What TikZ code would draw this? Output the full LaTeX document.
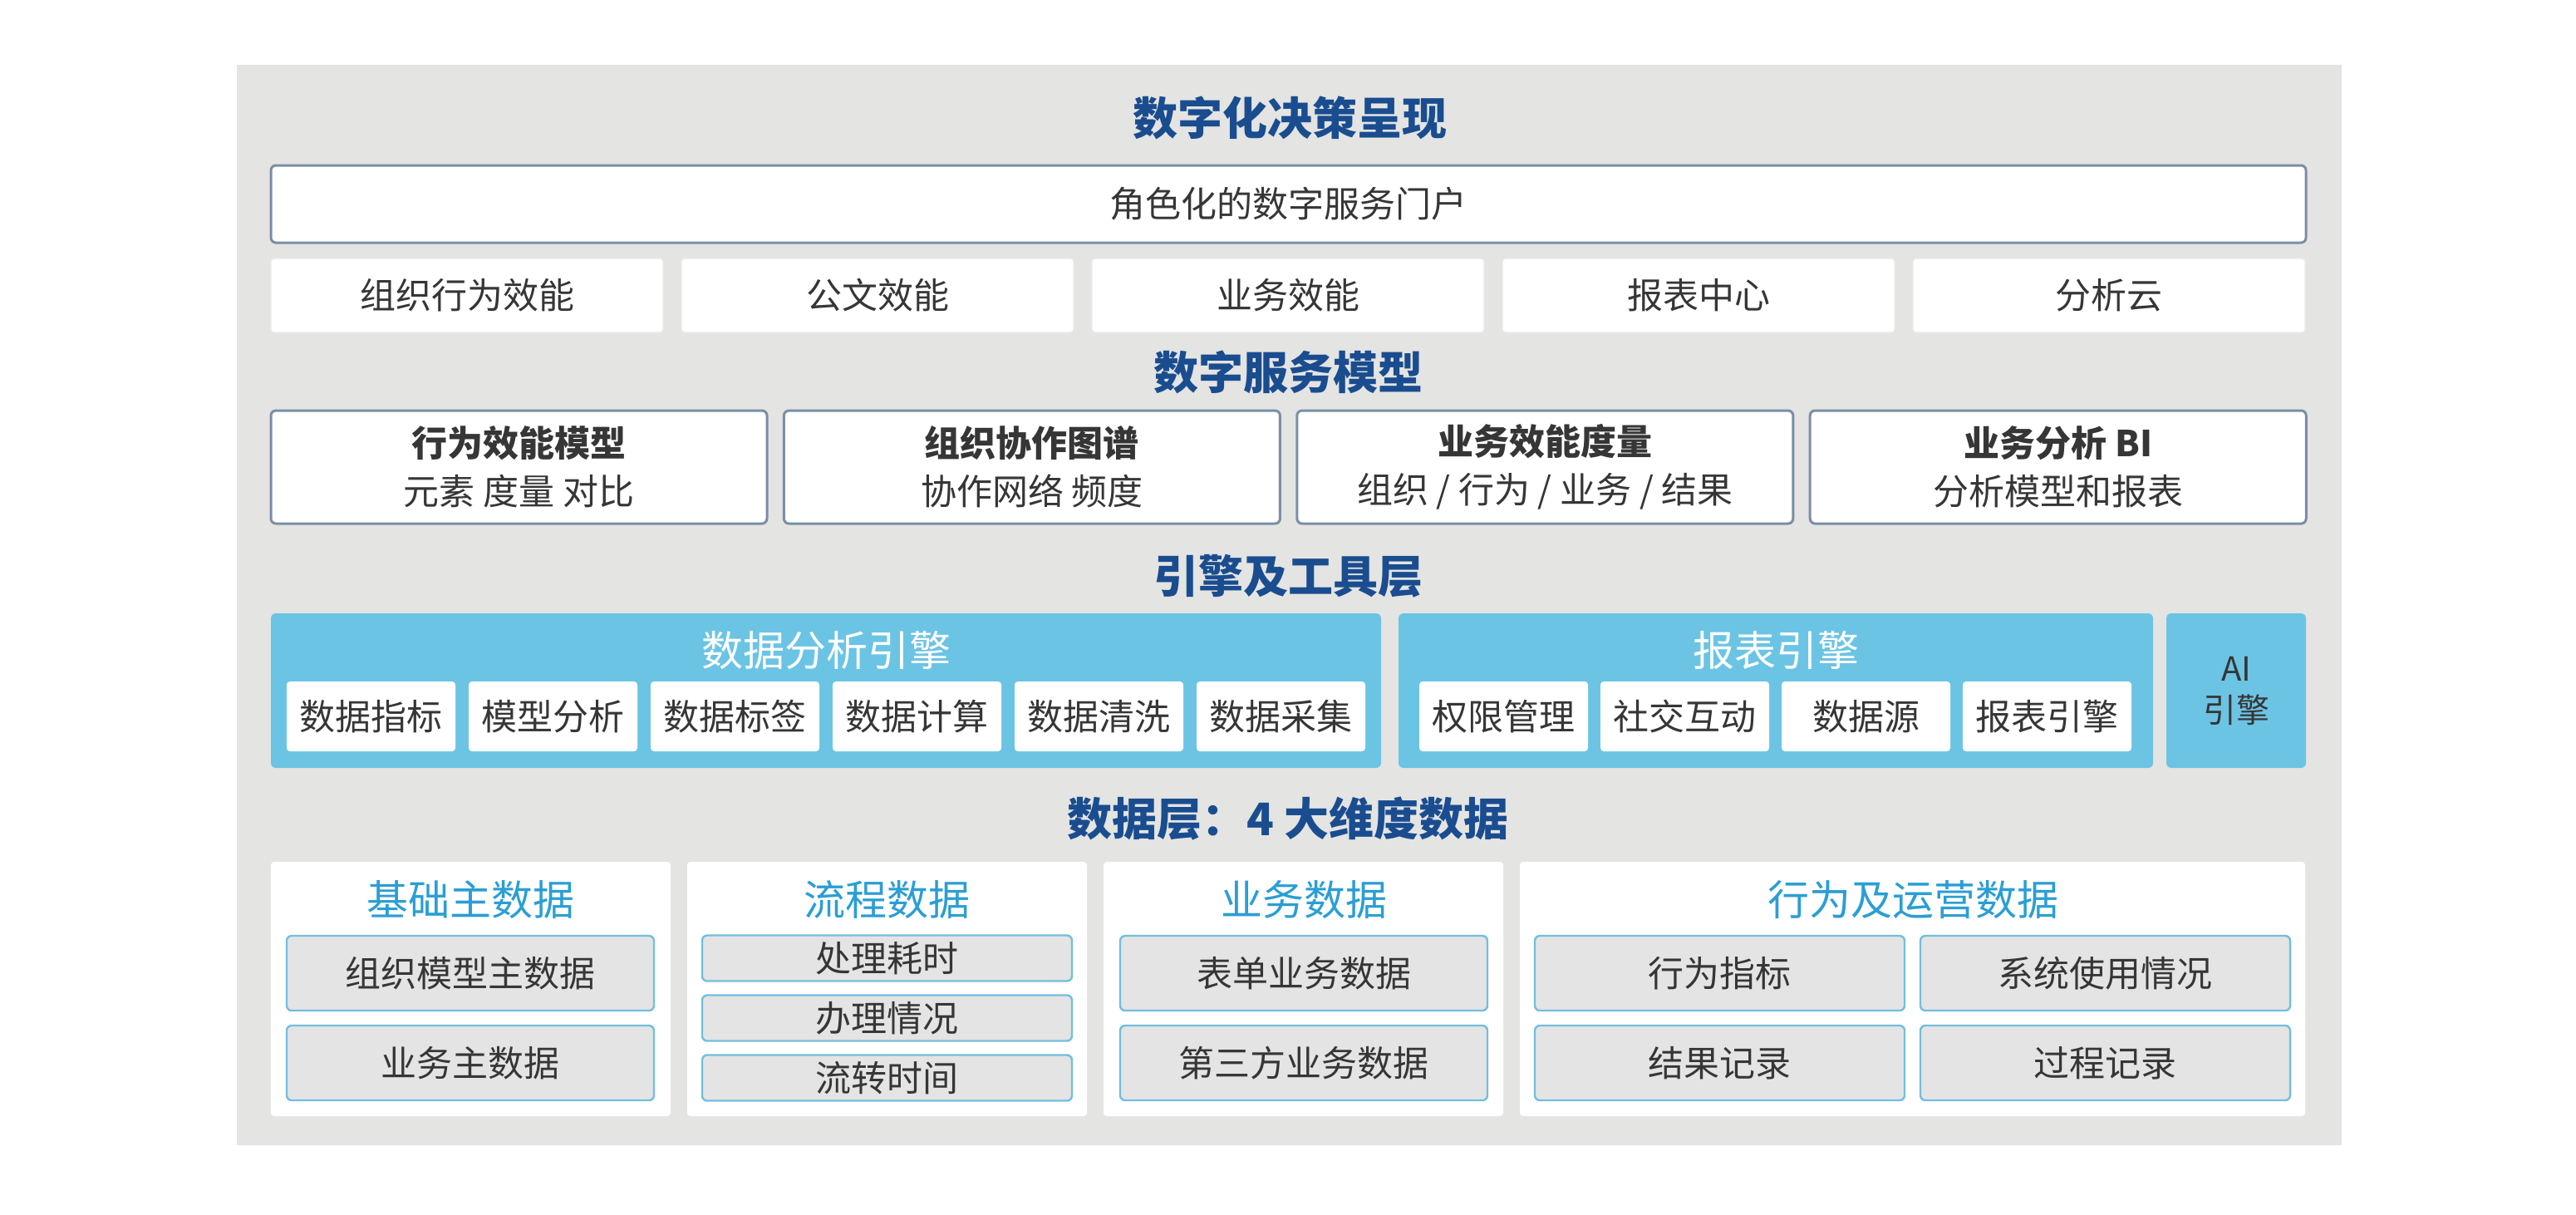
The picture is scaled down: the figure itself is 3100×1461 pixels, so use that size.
\documentclass[tikz,border=0pt]{standalone}
\usepackage{fontspec}
\setmainfont{Noto Sans CJK SC}
\usetikzlibrary{positioning}
\definecolor{bggray}{HTML}{E4E4E2}
\definecolor{titleblue}{HTML}{1A4D8F}
\definecolor{panelblue}{HTML}{2B9ED4}
\definecolor{engineblue}{HTML}{6CC4E4}
\definecolor{framegray}{HTML}{7A8EA6}
\definecolor{cellgray}{HTML}{E4E4E4}
\definecolor{cellline}{HTML}{72BFDD}
\definecolor{textgray}{HTML}{363636}
\def\bodyfont{\fontsize{10.75}{14.5}\selectfont}
\tikzset{
layertitle/.style={text=titleblue, font=\fontsize{13.5}{16}\selectfont\bfseries, inner sep=0pt},
portalbox/.style 2 args={draw=framegray, line width=0.75pt, fill=white, rounded corners=1.5pt,
	minimum width=#1*0.25pt, minimum height=#2*0.25pt, inner sep=0pt, text=textgray, font=\bodyfont},
plainbox/.style 2 args={draw=black!8, line width=0.3pt, fill=white, rounded corners=1pt,
	minimum width=#1*0.25pt, minimum height=#2*0.25pt, inner sep=0pt, text=textgray, font=\bodyfont},
engine/.style 2 args={fill=engineblue, rounded corners=1.5pt,
	minimum width=#1*0.25pt, minimum height=#2*0.25pt, inner sep=0pt},
enginetitle/.style={text=white, font=\fontsize{12.5}{15}\selectfont, inner sep=0pt},
tool/.style={fill=white, rounded corners=1pt, minimum width=203*0.25pt, minimum height=84*0.25pt,
	inner sep=0pt, text=textgray, font=\bodyfont},
panel/.style 2 args={fill=white, rounded corners=1pt,
	minimum width=#1*0.25pt, minimum height=#2*0.25pt, inner sep=0pt},
paneltitle/.style={text=panelblue, font=\fontsize{12.5}{15}\selectfont, inner sep=0pt},
cell/.style 2 args={draw=cellline, line width=0.6pt, fill=cellgray, rounded corners=1.5pt,
	minimum width=#1*0.25pt, minimum height=#2*0.25pt, inner sep=0pt, text=textgray, font=\bodyfont},
}
\begin{document}
\begin{tikzpicture}[x=0.25pt, y=-0.25pt, every node/.append style={outer sep=0pt}]
	\useasboundingbox (0,0) rectangle (3100,1461);
	\fill[white] (0,0) rectangle (3100,1461);
	\fill[bggray] (285,78) rectangle (2818,1378);
	
	% presentation layer
	\node[layertitle] (t1) at (1552,142) {数字化决策呈现};
	\node[portalbox={2449}{93}] (portal) at (1550.5,245.5) {角色化的数字服务门户};
	\node[plainbox={472}{89}] (r1) at (562,355.5) {组织行为效能};
	\node[plainbox={472}{89}, right=5.5pt of r1] (r2) {公文效能};
	\node[plainbox={472}{89}, right=5.5pt of r2] (r3) {业务效能};
	\node[plainbox={472}{89}, right=5.5pt of r3] (r4) {报表中心};
	\node[plainbox={472}{89}, right=5.5pt of r4] (r5) {分析云};
	
	% service model layer
	\node[layertitle] (t2) at (1550,448) {数字服务模型};
	\node[portalbox={597}{136}, align=center] (m1) at (624.5,562) {{\bfseries 行为效能模型}\\元素 度量 对比};
	\node[portalbox={597}{136}, align=center, right=5.1pt of m1] (m2) {{\bfseries 组织协作图谱}\\协作网络 频度};
	\node[portalbox={597}{136}, align=center, right=5.1pt of m2] (m3) {{\bfseries 业务效能度量}\\组织 / 行为 / 业务 / 结果};
	\node[portalbox={597}{136}, align=center, right=5.1pt of m3] (m4) {{\bfseries 业务分析 BI}\\分析模型和报表};
	
	% engine and tool layer
	\node[layertitle] (t3) at (1550,693) {引擎及工具层};
	\node[engine={1336}{186}] (dae) at (994,831) {};
	\node[engine={908}{186}] (rpe) at (2137,831) {};
	\node[engine={168}{186}, text=textgray, align=center, font=\fontsize{10}{12.5}\selectfont] (ai) at (2691,831) {AI\\引擎};
	\node[enginetitle] (daet) at (994,782) {数据分析引擎};
	\node[enginetitle] (rpet) at (2137,782) {报表引擎};
	
	\node[tool] (d1) at (446.5,862) {数据指标};
	\node[tool, right=4pt of d1] (d2) {模型分析};
	\node[tool, right=4pt of d2] (d3) {数据标签};
	\node[tool, right=4pt of d3] (d4) {数据计算};
	\node[tool, right=4pt of d4] (d5) {数据清洗};
	\node[tool, right=4pt of d5] (d6) {数据采集};
	
	\node[tool] (e1) at (1809.5,862) {权限管理};
	\node[tool, right=3.75pt of e1] (e2) {社交互动};
	\node[tool, right=3.75pt of e2] (e3) {数据源};
	\node[tool, right=3.75pt of e3] (e4) {报表引擎};
	
	% data layer
	\node[layertitle] (t4) at (1550,985) {数据层：4 大维度数据};
	\node[panel={481}{306}] (p1) at (566.5,1190) {};
	\node[panel={481}{306}, right=5pt of p1] (p2) {};
	\node[panel={481}{306}, right=5pt of p2] (p3) {};
	\node[panel={945}{306}, right=5pt of p3] (p4) {};
	
	\node[paneltitle] (p1t) at (566.5,1083) {基础主数据};
	\node[paneltitle] (p2t) at (1067.5,1083) {流程数据};
	\node[paneltitle] (p3t) at (1569,1083) {业务数据};
	\node[paneltitle] (p4t) at (2302.5,1083) {行为及运营数据};
	
	\node[cell={442}{90}] (b1) at (566,1171) {组织模型主数据};
	\node[cell={442}{90}, below=4.5pt of b1] (b2) {业务主数据};
	
	\node[cell={445}{55}] (f1) at (1067.5,1153) {处理耗时};
	\node[cell={445}{55}, below=4.25pt of f1] (f2) {办理情况};
	\node[cell={445}{55}, below=4.25pt of f2] (f3) {流转时间};
	
	\node[cell={442}{90}] (s1) at (1569,1171) {表单业务数据};
	\node[cell={442}{90}, below=4.5pt of s1] (s2) {第三方业务数据};
	
	\node[cell={445}{90}] (o1) at (2069.5,1171) {行为指标};
	\node[cell={445}{90}, right=4.75pt of o1] (o2) {系统使用情况};
	\node[cell={445}{90}, below=4.5pt of o1] (o3) {结果记录};
	\node[cell={445}{90}, below=4.5pt of o2] (o4) {过程记录};
\end{tikzpicture}
\end{document}
